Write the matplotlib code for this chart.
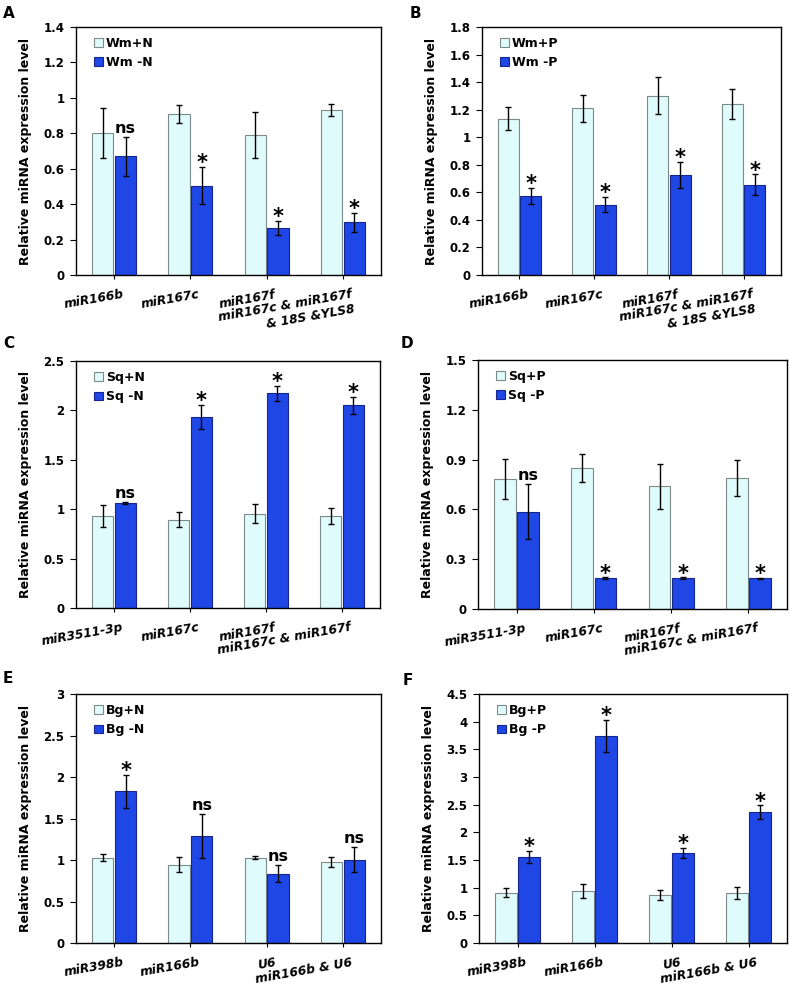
import matplotlib
matplotlib.use('Agg')
import matplotlib.pyplot as plt
from matplotlib.patches import Patch
from matplotlib.transforms import ScaledTranslation
import numpy as np

plt.rcParams['font.family'] = ['DejaVu Sans']
plt.rcParams['font.weight'] = 'bold'

# ----- Data -----

a_genes = ['miR166b', 'miR167c', 'miR167f', 'miR167c & miR167f\n& 18S &YLS8']
a_series = ['Wm+N', 'Wm -N']
a_ctrl = [0.80, 0.91, 0.79, 0.93]
a_ctrl_err = [0.14, 0.05, 0.13, 0.035]
a_treat = [0.67, 0.505, 0.265, 0.297]
a_treat_err = [0.11, 0.105, 0.038, 0.052]
a_marks = ['ns', '*', '*', '*']
a_yticks = [0, 0.2, 0.4, 0.6, 0.8, 1, 1.2, 1.4]

b_genes = ['miR166b', 'miR167c', 'miR167f', 'miR167c & miR167f\n& 18S &YLS8']
b_series = ['Wm+P', 'Wm -P']
b_ctrl = [1.135, 1.21, 1.30, 1.24]
b_ctrl_err = [0.085, 0.10, 0.135, 0.11]
b_treat = [0.575, 0.51, 0.725, 0.655]
b_treat_err = [0.06, 0.055, 0.095, 0.075]
b_marks = ['*', '*', '*', '*']
b_yticks = [0, 0.2, 0.4, 0.6, 0.8, 1, 1.2, 1.4, 1.6, 1.8]

c_genes = ['miR3511-3p', 'miR167c', 'miR167f', 'miR167c & miR167f']
c_series = ['Sq+N', 'Sq -N']
c_ctrl = [0.93, 0.895, 0.955, 0.93]
c_ctrl_err = [0.115, 0.075, 0.095, 0.08]
c_treat = [1.065, 1.935, 2.175, 2.05]
c_treat_err = [0.01, 0.12, 0.075, 0.085]
c_marks = ['ns', '*', '*', '*']
c_yticks = [0, 0.5, 1, 1.5, 2, 2.5]

d_genes = ['miR3511-3p', 'miR167c', 'miR167f', 'miR167c & miR167f']
d_series = ['Sq+P', 'Sq -P']
d_ctrl = [0.785, 0.85, 0.74, 0.79]
d_ctrl_err = [0.12, 0.083, 0.135, 0.11]
d_treat = [0.585, 0.185, 0.185, 0.185]
d_treat_err = [0.165, 0.005, 0.005, 0.003]
d_marks = ['ns', '*', '*', '*']
d_yticks = [0, 0.3, 0.6, 0.9, 1.2, 1.5]

e_genes = ['miR398b', 'miR166b', 'U6', 'miR166b & U6']
e_series = ['Bg+N', 'Bg -N']
e_ctrl = [1.03, 0.945, 1.03, 0.98]
e_ctrl_err = [0.045, 0.095, 0.02, 0.06]
e_treat = [1.83, 1.29, 0.835, 1.005]
e_treat_err = [0.2, 0.265, 0.105, 0.155]
e_marks = ['*', 'ns', 'ns', 'ns']
e_yticks = [0, 0.5, 1, 1.5, 2, 2.5, 3]

f_genes = ['miR398b', 'miR166b', 'U6', 'miR166b & U6']
f_series = ['Bg+P', 'Bg -P']
f_ctrl = [0.91, 0.945, 0.865, 0.90]
f_ctrl_err = [0.085, 0.13, 0.095, 0.105]
f_treat = [1.555, 3.74, 1.63, 2.365]
f_treat_err = [0.105, 0.285, 0.085, 0.12]
f_marks = ['*', '*', '*', '*']
f_yticks = [0, 0.5, 1, 1.5, 2, 2.5, 3, 3.5, 4, 4.5]

LIGHT = '#dffbfb'
LIGHT_EDGE = '#7d8a8a'
DARK = '#1f47e6'
DARK_EDGE = '#15258c'

# ----- Layout (pixels of a 792x988 figure) -----

W, H = 792, 988
fig = plt.figure(figsize=(W / 100, H / 100), dpi=100)

panels = [
    ('A', (76, 381, 27, 275), (3, 6), a_genes, a_series, a_ctrl, a_ctrl_err,
     a_treat, a_treat_err, a_marks, a_yticks),
    ('B', (482, 781, 27, 275), (410, 6), b_genes, b_series, b_ctrl, b_ctrl_err,
     b_treat, b_treat_err, b_marks, b_yticks),
    ('C', (76, 380, 361, 608), (3, 336), c_genes, c_series, c_ctrl, c_ctrl_err,
     c_treat, c_treat_err, c_marks, c_yticks),
    ('D', (478, 787, 360, 609), (401, 336), d_genes, d_series, d_ctrl, d_ctrl_err,
     d_treat, d_treat_err, d_marks, d_yticks),
    ('E', (76, 381, 694, 943), (3, 671), e_genes, e_series, e_ctrl, e_ctrl_err,
     e_treat, e_treat_err, e_marks, e_yticks),
    ('F', (479, 787, 694, 943), (403, 673), f_genes, f_series, f_ctrl, f_ctrl_err,
     f_treat, f_treat_err, f_marks, f_yticks),
]

bar_w = 0.28
off = 0.15

for (letter, (x0, x1, y0, y1), (lx, ly), genes, series, ctrl, ctrl_err,
     treat, treat_err, marks, yticks) in panels:
    ax = fig.add_axes([x0 / W, (H - y1) / H, (x1 - x0) / W, (y1 - y0) / H])
    x = np.arange(len(genes))

    ax.bar(x - off, ctrl, bar_w, color=LIGHT, edgecolor=LIGHT_EDGE, linewidth=0.8,
           zorder=2)
    ax.bar(x + off, treat, bar_w, color=DARK, edgecolor=DARK_EDGE, linewidth=0.8,
           zorder=2)
    ax.errorbar(x - off, ctrl, yerr=ctrl_err, fmt='none', ecolor='black',
                elinewidth=1.0, capsize=2, capthick=1.0, zorder=3)
    ax.errorbar(x + off, treat, yerr=treat_err, fmt='none', ecolor='black',
                elinewidth=1.0, capsize=2, capthick=1.0, zorder=3)

    for xi, v, e, m in zip(x, treat, treat_err, marks):
        if m == '*':
            ax.annotate(m, (xi + off, v + e), xytext=(0, -1.5),
                        textcoords='offset points', ha='center', va='baseline',
                        fontsize=15, fontweight='bold')
        else:
            ax.annotate(m, (xi + off, v + e), xytext=(0, 3),
                        textcoords='offset points', ha='center', va='baseline',
                        fontsize=11.5, fontweight='bold')

    ax.set_xlim(-0.5, len(genes) - 0.5)
    ax.set_ylim(yticks[0], yticks[-1])
    ax.set_yticks(yticks)
    ax.set_yticklabels([f'{t:g}' for t in yticks])
    ax.set_xticks(x)
    ax.set_xticklabels([])
    ax.tick_params(axis='y', direction='out', length=4.3, width=0.8, pad=4,
                   labelsize=8.5)
    ax.tick_params(axis='x', direction='out', length=3, width=0.8)
    for s in ax.spines.values():
        s.set_linewidth(1.0)
        s.set_color('black')
    for lab in ax.get_yticklabels():
        lab.set_fontweight('bold')

    # x labels, rotated like the original spreadsheet chart
    shift = ScaledTranslation(8 / 100, -13 / 100, fig.dpi_scale_trans)
    for xi, g in zip(x, genes):
        ax.text(xi, 0, g, transform=ax.get_xaxis_transform() + shift,
                rotation=10, rotation_mode='anchor', ha='right', va='top',
                multialignment='right', fontsize=8.8, fontweight='bold',
                fontstyle='italic')

    ax.set_ylabel('Relative miRNA expression level', fontsize=9,
                  fontweight='bold', labelpad=8)

    handles = [Patch(facecolor=LIGHT, edgecolor=LIGHT_EDGE, linewidth=0.8),
               Patch(facecolor=DARK, edgecolor=DARK_EDGE, linewidth=0.8)]
    ax.legend(handles, series, loc='upper left',
              bbox_to_anchor=(18 / (x1 - x0), 1 - 10 / (y1 - y0)),
              frameon=False, borderpad=0, borderaxespad=0,
              handlelength=0.7, handleheight=0.7, handletextpad=0.25,
              labelspacing=0.5, prop={'weight': 'bold', 'size': 9})

    fig.text(lx / W, 1 - ly / H, letter, ha='left', va='top', fontsize=11,
             fontweight='bold')

fig.savefig('out.png', dpi=100)
